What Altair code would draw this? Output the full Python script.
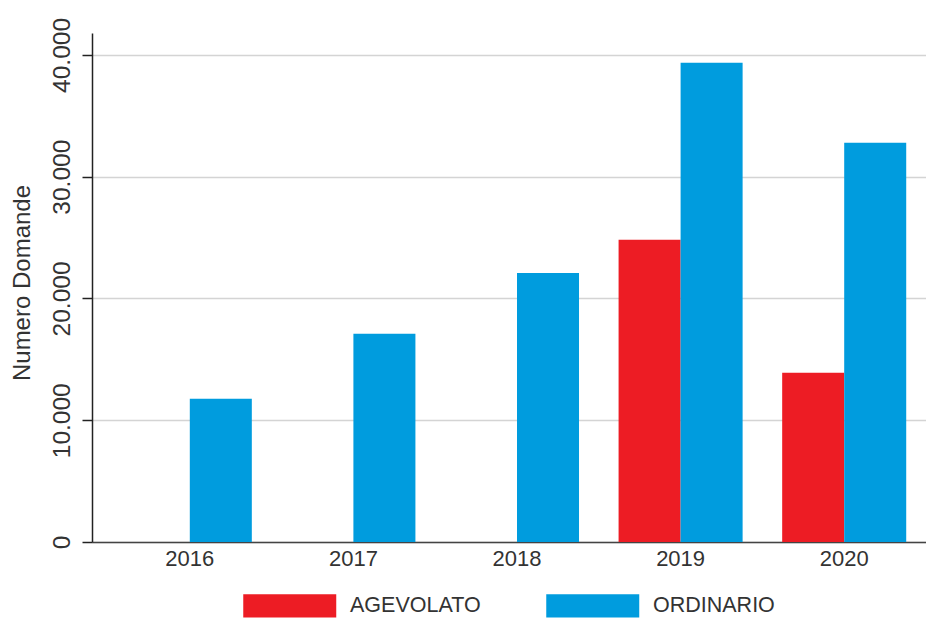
import altair as alt
import pandas as pd

years = ["2016", "2017", "2018", "2019", "2020"]
agevolato = [None, None, None, 24830, 13900]
ordinario = [11770, 17100, 22100, 39360, 32790]
series = ["AGEVOLATO", "ORDINARIO"]
colors = ["#ED1C24", "#009CDE"]
y_ticks = [0, 10000, 20000, 30000, 40000]

rows = []
for y, a, o in zip(years, agevolato, ordinario):
    if a is not None:
        rows.append({"Anno": y, "Tipo": "AGEVOLATO", "Domande": a})
    if o is not None:
        rows.append({"Anno": y, "Tipo": "ORDINARIO", "Domande": o})
df = pd.DataFrame(rows)

FONT = "Liberation Sans"
TXT = "#333333"

chart = alt.Chart(df).mark_bar().encode(
    x=alt.X(
        "Anno:N",
        sort=years,
        scale=alt.Scale(paddingInner=0, paddingOuter=0.0489, align=1),
        axis=alt.Axis(
            title=None, labelAngle=0, ticks=False, labelFontSize=22,
            labelColor=TXT, labelFont=FONT, labelPadding=6,
            domainColor="#444444", domainWidth=1.5, grid=False,
        ),
    ),
    xOffset=alt.XOffset(
        "Tipo:N", sort=series,
        scale=alt.Scale(domain=series, paddingInner=0, paddingOuter=0.319),
    ),
    y=alt.Y(
        "Domande:Q",
        scale=alt.Scale(domain=[0, 41800], nice=False),
        axis=alt.Axis(
            values=y_ticks,
            labelExpr="replace(format(datum.value, ','), ',', '.')",
            title="Numero Domande", titleAngle=270, titleX=-70, titleY=249.5,
            titleAlign="center", titleBaseline="middle", titleFontSize=24,
            titleFontWeight="normal", titleColor=TXT, titleFont=FONT,
            labelAngle=270, labelAlign="center", labelBaseline="middle",
            labelPadding=20, labelFontSize=24.5, labelColor=TXT, labelFont=FONT,
            tickSize=10, tickColor="#222222", tickWidth=1.5,
            domainColor="#222222", domainWidth=1.5,
            grid=True, gridColor="#d4d4d4", gridWidth=1.5,
        ),
    ),
    color=alt.Color(
        "Tipo:N",
        scale=alt.Scale(domain=series, range=colors),
        legend=alt.Legend(
            title=None, orient="none", legendX=151, legendY=549,
            direction="horizontal",
            symbolType="M-1,-0.5H3V0.5H-1Z", symbolSize=2162,
            symbolStrokeWidth=0, symbolOpacity=1,
            labelOffset=60, columnPadding=65, labelFontSize=21.5,
            labelColor=TXT, labelFont=FONT,
        ),
    ),
).properties(
    width=834, height=509,
    autosize=alt.AutoSizeParams(type="none"),
    padding={"left": 84, "top": 25, "right": 0, "bottom": 77},
).configure_view(stroke=None)

chart.save("out.html", embed_options={"renderer": "svg", "actions": False})
